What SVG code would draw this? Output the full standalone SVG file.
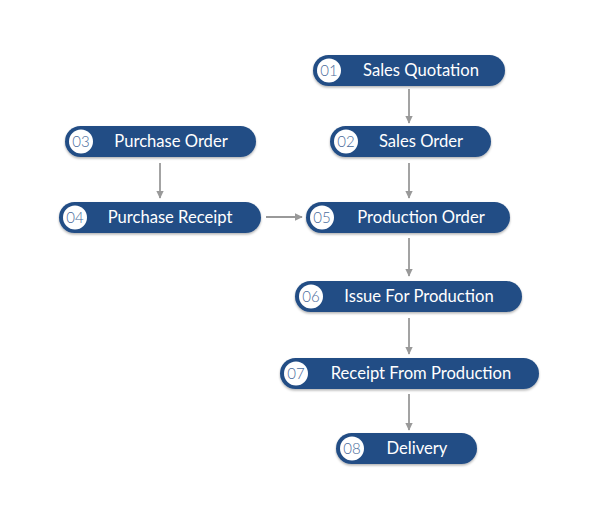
<svg xmlns="http://www.w3.org/2000/svg" width="600" height="517" viewBox="0 0 600 517">
<style>
.pill{fill:#234e85;}
.num{fill:#ffffff;}
.nt{font-family:Lato,"Liberation Sans",sans-serif;font-weight:300;font-size:15px;fill:#4a6c9c;text-anchor:middle;}
.lt{font-family:Lato,"Liberation Sans",sans-serif;font-size:16.6px;fill:#ffffff;text-anchor:middle;}
.c{stroke:#999999;stroke-width:1.8;fill:none;marker-end:url(#ah);}
</style>
<defs>
<marker id="ah" viewBox="0 0 10 10" refX="9" refY="5" markerWidth="8" markerHeight="7.5" markerUnits="userSpaceOnUse" orient="auto" preserveAspectRatio="none"><path d="M0,0 L10,5 L0,10 z" fill="#999999"/></marker>
<filter id="sh" x="-10%" y="-30%" width="120%" height="170%"><feDropShadow dx="0" dy="1.5" stdDeviation="1" flood-color="#000" flood-opacity="0.3"/></filter>
</defs>
<rect width="600" height="517" fill="#ffffff"/>
<g id="connectors">
<line class="c" x1="409" y1="89" x2="409" y2="123"/>
<line class="c" x1="409" y1="163" x2="409" y2="198"/>
<line class="c" x1="160" y1="163" x2="160" y2="198"/>
<line class="c" x1="266" y1="217" x2="302" y2="217"/>
<line class="c" x1="409" y1="238" x2="409" y2="276"/>
<line class="c" x1="409" y1="318" x2="409" y2="354"/>
<line class="c" x1="409" y1="394" x2="409" y2="430"/>
</g>
<g id="n01"><rect class="pill" filter="url(#sh)" x="313" y="55" width="192" height="31" rx="15.5"/><circle class="num" cx="329" cy="70.5" r="12"/><text class="nt" x="329" y="75.5">01</text><text class="lt" x="421" y="76">Sales Quotation</text></g>
<g id="n02"><rect class="pill" filter="url(#sh)" x="330" y="126" width="161" height="31" rx="15.5"/><circle class="num" cx="346" cy="141.5" r="12"/><text class="nt" x="346" y="146.5">02</text><text class="lt" x="421" y="147">Sales Order</text></g>
<g id="n03"><rect class="pill" filter="url(#sh)" x="65" y="126" width="191" height="31" rx="15.5"/><circle class="num" cx="81" cy="141.5" r="12"/><text class="nt" x="81" y="146.5">03</text><text class="lt" x="171" y="147">Purchase Order</text></g>
<g id="n04"><rect class="pill" filter="url(#sh)" x="59" y="202" width="202" height="31" rx="15.5"/><circle class="num" cx="75" cy="217.5" r="12"/><text class="nt" x="75" y="222.5">04</text><text class="lt" x="170" y="223">Purchase Receipt</text></g>
<g id="n05"><rect class="pill" filter="url(#sh)" x="306" y="202" width="204" height="31" rx="15.5"/><circle class="num" cx="322" cy="217.5" r="12"/><text class="nt" x="322" y="222.5">05</text><text class="lt" x="421" y="223">Production Order</text></g>
<g id="n06"><rect class="pill" filter="url(#sh)" x="295" y="281" width="227" height="31" rx="15.5"/><circle class="num" cx="311" cy="296.5" r="12"/><text class="nt" x="311" y="301.5">06</text><text class="lt" x="419" y="302">Issue For Production</text></g>
<g id="n07"><rect class="pill" filter="url(#sh)" x="280" y="358" width="259" height="31" rx="15.5"/><circle class="num" cx="296" cy="373.5" r="12"/><text class="nt" x="296" y="378.5">07</text><text class="lt" x="421" y="379">Receipt From Production</text></g>
<g id="n08"><rect class="pill" filter="url(#sh)" x="336" y="433" width="141" height="31" rx="15.5"/><circle class="num" cx="352" cy="448.5" r="12"/><text class="nt" x="352" y="453.5">08</text><text class="lt" x="417" y="454">Delivery</text></g>
</svg>
